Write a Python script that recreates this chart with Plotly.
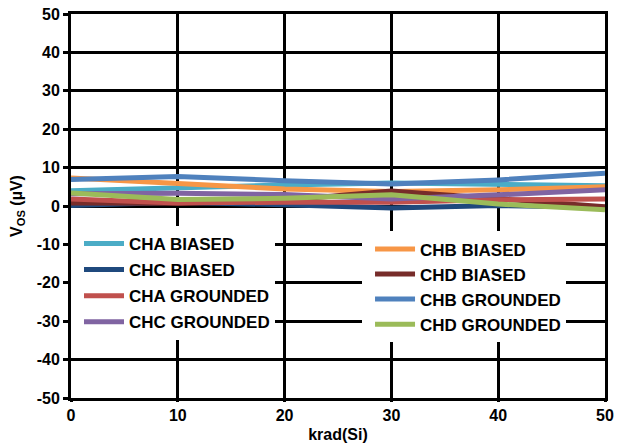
import plotly.graph_objects as go

krad = [0, 10, 20, 30, 40, 50]

cha_biased = [4.0, 4.8, 5.5, 6.0, 5.5, 5.3]
chb_biased = [7.3, 5.9, 4.4, 3.8, 4.2, 5.0]
chc_biased = [0.1, 1.0, 0.3, -0.5, 0.1, -0.3]
chd_biased = [0.8, 0.7, 1.5, 3.9, 1.9, -0.2]
cha_grounded = [1.8, 0.8, 1.0, 1.0, 1.6, 1.8]
chb_grounded = [6.9, 7.7, 6.6, 5.7, 6.8, 8.5]
chc_grounded = [3.2, 3.3, 3.0, 1.8, 2.9, 4.2]
chd_grounded = [3.4, 1.7, 2.0, 2.9, 0.5, -1.0]

y_ticks = [50, 40, 30, 20, 10, 0, -10, -20, -30, -40, -50]
y_tick_labels = ["50", "40", "30", "20", "10", "0", "-10", "-20", "-30", "-40", "-50"]
x_ticks = [0, 10, 20, 30, 40, 50]
x_tick_labels = ["0", "10", "20", "30", "40", "50"]

series = [
    ("CHA BIASED", cha_biased, "#4BACC6", "legend"),
    ("CHB BIASED", chb_biased, "#F79646", "legend2"),
    ("CHC BIASED", chc_biased, "#1F497D", "legend"),
    ("CHD BIASED", chd_biased, "#772C2A", "legend2"),
    ("CHA GROUNDED", cha_grounded, "#C0504D", "legend"),
    ("CHB GROUNDED", chb_grounded, "#4F81BD", "legend2"),
    ("CHC GROUNDED", chc_grounded, "#8064A2", "legend"),
    ("CHD GROUNDED", chd_grounded, "#9BBB59", "legend2"),
]

FONT = "Liberation Sans, Arial, sans-serif"

fig = go.Figure()
for name, vals, color, leg in series:
    fig.add_trace(go.Scatter(
        x=krad, y=vals, mode="lines", name=name,
        line=dict(color=color, width=5),
        legend=leg, legendgroup=name,
    ))

legend_font = dict(family=FONT, size=17, color="black", weight="bold")
tick_font = dict(family=FONT, size=16, color="black", weight="bold")

fig.update_layout(
    width=631, height=447,
    margin=dict(l=71, r=26, t=14, b=49),
    paper_bgcolor="white", plot_bgcolor="white",
    font=dict(family=FONT, size=16, color="black"),
    legend=dict(
        x=0.0, y=0.448, xanchor="left", yanchor="top",
        bgcolor="white", borderwidth=0, font=legend_font,
        tracegroupgap=1, traceorder="grouped", itemwidth=40,
        indentation=8,
    ),
    legend2=dict(
        x=0.545, y=0.434, xanchor="left", yanchor="top",
        bgcolor="white", borderwidth=0, font=legend_font,
        tracegroupgap=0, traceorder="grouped", itemwidth=40,
        indentation=8,
    ),
    xaxis=dict(
        range=[0, 50], tickvals=x_ticks, ticktext=x_tick_labels,
        showgrid=True, gridcolor="black", gridwidth=3,
        showline=True, linecolor="black", linewidth=3, mirror=True,
        zeroline=False, ticks="outside", ticklen=1, tickwidth=3, tickcolor="black",
        tickfont=tick_font, automargin=False, ticklabeloverflow="allow",
        title=dict(text="krad(Si)", standoff=6, font=tick_font),
    ),
    yaxis=dict(
        range=[-50, 50], tickvals=y_ticks, ticktext=y_tick_labels,
        showgrid=True, gridcolor="black", gridwidth=3,
        showline=True, linecolor="black", linewidth=3, mirror=True,
        zeroline=False, ticks="outside", ticklen=5, tickwidth=3, tickcolor="black",
        tickfont=tick_font, automargin=False, ticklabeloverflow="allow",
        title=dict(text="V<sub>OS</sub> (µV)", standoff=11, font=tick_font),
    ),
)

# remove the page's default 8px body margin so the figure fills the window exactly
fig.write_html(
    "out.html",
    config={"displayModeBar": False},
    post_script="document.body.style.margin='0';",
)
